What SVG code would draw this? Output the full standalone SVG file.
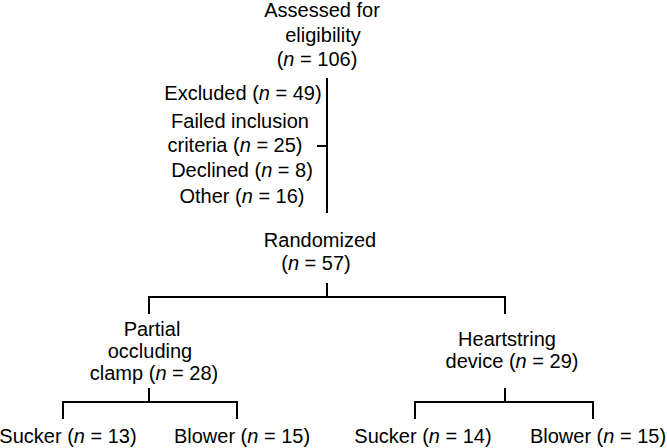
<svg xmlns="http://www.w3.org/2000/svg" width="667" height="448" viewBox="0 0 667 448">
<style>
text{font-family:"Liberation Sans",Arial,sans-serif;font-size:20px;fill:#000;text-anchor:middle}
.i{font-style:italic}
.l{stroke:#000;stroke-width:2;fill:none}
</style>
<rect width="667" height="448" fill="#fff"/>
<g id="assessed"><text x="322" y="17">Assessed for</text><text x="323" y="42">eligibility</text><text x="317" y="66">(<tspan class="i">n</tspan> = 106)</text></g>
<g id="excluded"><text x="243" y="100">Excluded (<tspan class="i">n</tspan> = 49)</text><text x="240" y="128">Failed inclusion</text><text x="235" y="152">criteria (<tspan class="i">n</tspan> = 25)</text><text x="242" y="177">Declined (<tspan class="i">n</tspan> = 8)</text><text x="242" y="203">Other (<tspan class="i">n</tspan> = 16)</text></g>
<g id="randomized"><text x="320" y="247">Randomized</text><text x="316" y="270">(<tspan class="i">n</tspan> = 57)</text></g>
<g id="clamp"><text x="152" y="336">Partial</text><text x="150" y="358">occluding</text><text x="154" y="380">clamp (<tspan class="i">n</tspan> = 28)</text></g>
<g id="heartstring"><text x="507" y="346">Heartstring</text><text x="512" y="368">device (<tspan class="i">n</tspan> = 29)</text></g>
<g id="sucker1"><text x="68" y="443">Sucker (<tspan class="i">n</tspan> = 13)</text></g>
<g id="blower1"><text x="242" y="443">Blower (<tspan class="i">n</tspan> = 15)</text></g>
<g id="sucker2"><text x="423" y="443">Sucker (<tspan class="i">n</tspan> = 14)</text></g>
<g id="blower2"><text x="598" y="443">Blower (<tspan class="i">n</tspan> = 15)</text></g>
<g id="connectors">
<path class="l" d="M327 78V213M317 146H327"/>
<path class="l" d="M327 283V297M149 314V297H505V314"/>
<path class="l" d="M149 388V402M63 419V402H237V419"/>
<path class="l" d="M505 388V402M415 419V402H593V419"/>
</g>
</svg>
